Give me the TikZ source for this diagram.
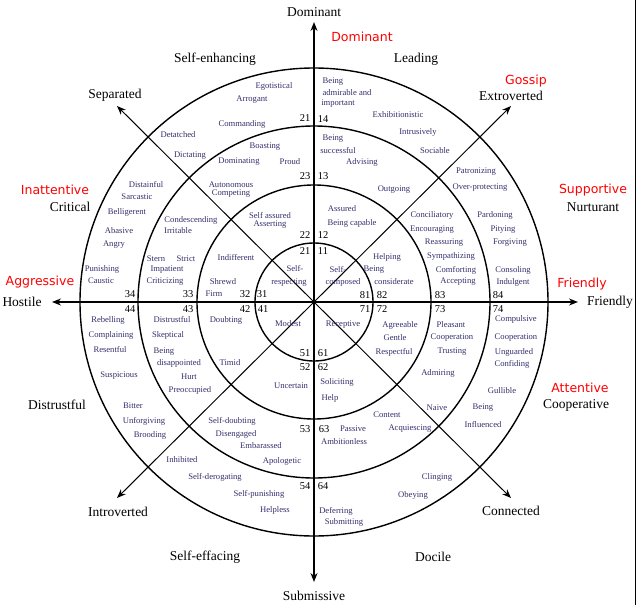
\documentclass[tikz,border=0pt]{standalone}
\usepackage{fontspec}
\setmainfont{Liberation Serif}
\newfontfamily\redsans{DejaVu Sans}
\usetikzlibrary{arrows.meta}
\definecolor{wordc}{rgb}{0.2,0.18,0.42}
\tikzset{
  ring/.style={line width=1.4pt},
  axisarrow/.style={line width=1.4pt,-{Stealth[length=9pt,width=7pt]}},
  diagarrow/.style={line width=1pt,-{Stealth[length=9pt,width=7pt]}},
  big/.style={font=\fontsize{13.5}{14}\selectfont,inner sep=0pt},
  redl/.style={font=\redsans\fontsize{12.5}{13}\selectfont,text=red,inner sep=0pt},
  word/.style={font=\fontsize{8.6}{9}\selectfont,text=wordc,inner sep=0pt},
  num/.style={font=\fontsize{10.5}{11}\selectfont,inner sep=0pt}
}
\begin{document}
\begin{tikzpicture}[x=1pt,y=-1pt]
\useasboundingbox (0,0) rectangle (640,605);
\coordinate (c) at (314,302);
\foreach \r in {59,117,176,234} \draw[ring] (c) circle[radius=\r];
\coordinate (up) at (314,22);
\coordinate (dn) at (314,582);
\coordinate (lt) at (52,302);
\coordinate (rt) at (578,302);
\coordinate (nw) at (117,106);
\coordinate (ne) at (511,106);
\coordinate (se) at (511,498);
\coordinate (sw) at (117,498);
\foreach \t in {up,dn,lt,rt} \draw[axisarrow] (c) -- (\t);
\foreach \t in {nw,ne,se,sw} \draw[diagarrow] (c) -- (\t);
\fill (c) circle[radius=2pt];
\coordinate (fa) at (635,0);
\coordinate (fb) at (635,605);
\draw[line width=0.8pt] (fa) -- (fb);
% big labels
\foreach \x/\y/\t [count=\i] in {314/12/Dominant,215/59/Self-enhancing,416/59/Leading,115/95/Separated,511/96/Extroverted,70/207/Critical,593/207/Nurturant,22/302/Hostile,610/302/Friendly,57/405/Distrustful,576/405/Cooperative,118/512/Introverted,511/511/Connected,205/557/Self-effacing,433/557/Docile,314/596/Submissive}
  \node[big] (b\i) at (\x,\y) {\t};
% red labels
\foreach \x/\y/\t [count=\i] in {362/37/Dominant,526/81/Gossip,55/190/Inattentive,593/190/Supportive,40/282/Aggressive,582/284/Friendly,580/388/Attentive}
  \node[redl] (r\i) at (\x,\y) {\t};
% numbers
\foreach \x/\y/\t [count=\i] in {305/118/21,323/119/14,305/176/23,323/176/13,305/235/22,323/235/12,305/251/21,323/251/11,130/294/34,188/294/33,245/294/32,262/294/31,365/295/81,382/295/82,440/295/83,498/295/84,130/309/44,188/309/43,245/309/42,263/309/41,365/309/71,382/309/72,440/309/73,498/309/74,305/353/51,323/353/61,305/367/52,323/367/62,305/429/53,324/429/63,305/486/54,323/486/64}
  \node[num] (n\i) at (\x,\y) {\t};
% words
\foreach \x/\y/\t [count=\i] in {
274/86/Egotistical,252/100/Arrogant,242/124/Commanding,178/135/Detatched,265/147/Boasting,190/156/Dictating,239/162/Dominating,290/162/Proud,231/185/Autonomous,231/194/Competing,
333/82/Being,347/93/admirable and,338/104/important,398/115/Exhibitionistic,418/132/Intrusively,435/151/Sociable,333/139/Being,338/151/successful,362/162/Advising,394/190/Outgoing,476/172/Patronizing,480/188/Over-protecting,
146/185/Distainful,137/197/Sarcastic,127/212/Belligerent,119/231/Abasive,114/245/Angry,191/220/Condescending,178/231/Irritable,270/216/Self assured,270/225/Asserting,156/259/Stern,186/259/Strict,167/270/Impatient,165/282/Criticizing,236/258/Indifferent,102/269/Punishing,101/281/Caustic,295/269/Self-,289/283/respecting,223/282/Shrewd,214/294/Firm,
108/320/Rebelling,111/335/Complaining,110/350/Resentful,172/320/Distrustful,168/335/Skeptical,226/320/Doubting,288/324/Modest,164/352/Being,179/363/disappointed,230/363/Timid,119/376/Suspicious,189/377/Hurt,190/390/Preoccupied,291/386/Uncertain,
342/209/Assured,352/223/Being capable,432/215/Conciliatory,432/230/Encouraging,444/243/Reassuring,451/256/Sympathizing,495/215/Pardoning,503/230/Pitying,510/243/Forgiving,387/257/Helping,374/270/Being,394/282/considerate,338/270/Self-,343/282/composed,456/270/Comforting,458/282/Accepting,513/270/Consoling,513/282/Indulgent,
343/325/Receptive,516/319/Compulsive,400/325/Agreeable,395/338/Gentle,394/352/Respectful,451/325/Pleasant,452/338/Cooperation,452/352/Trusting,516/338/Cooperation,514/352/Unguarded,512/364/Confiding,337/382/Soliciting,438/373/Admiring,502/391/Gullible,330/398/Help,
133/406/Bitter,144/421/Unforgiving,150/435/Brooding,232/421/Self-doubting,236/434/Disengaged,261/446/Embarassed,282/461/Apologetic,182/460/Inhibited,215/477/Self-derogating,259/494/Self-punishing,275/510/Helpless,
437/408/Naive,483/408/Being,387/415/Content,410/429/Acquiescing,353/429/Passive,344/442/Ambitionless,483/425/Influenced,437/477/Clinging,413/495/Obeying,336/511/Deferring,344/522/Submitting}
  \node[word] (w\i) at (\x,\y) {\t};
\end{tikzpicture}
\end{document}
